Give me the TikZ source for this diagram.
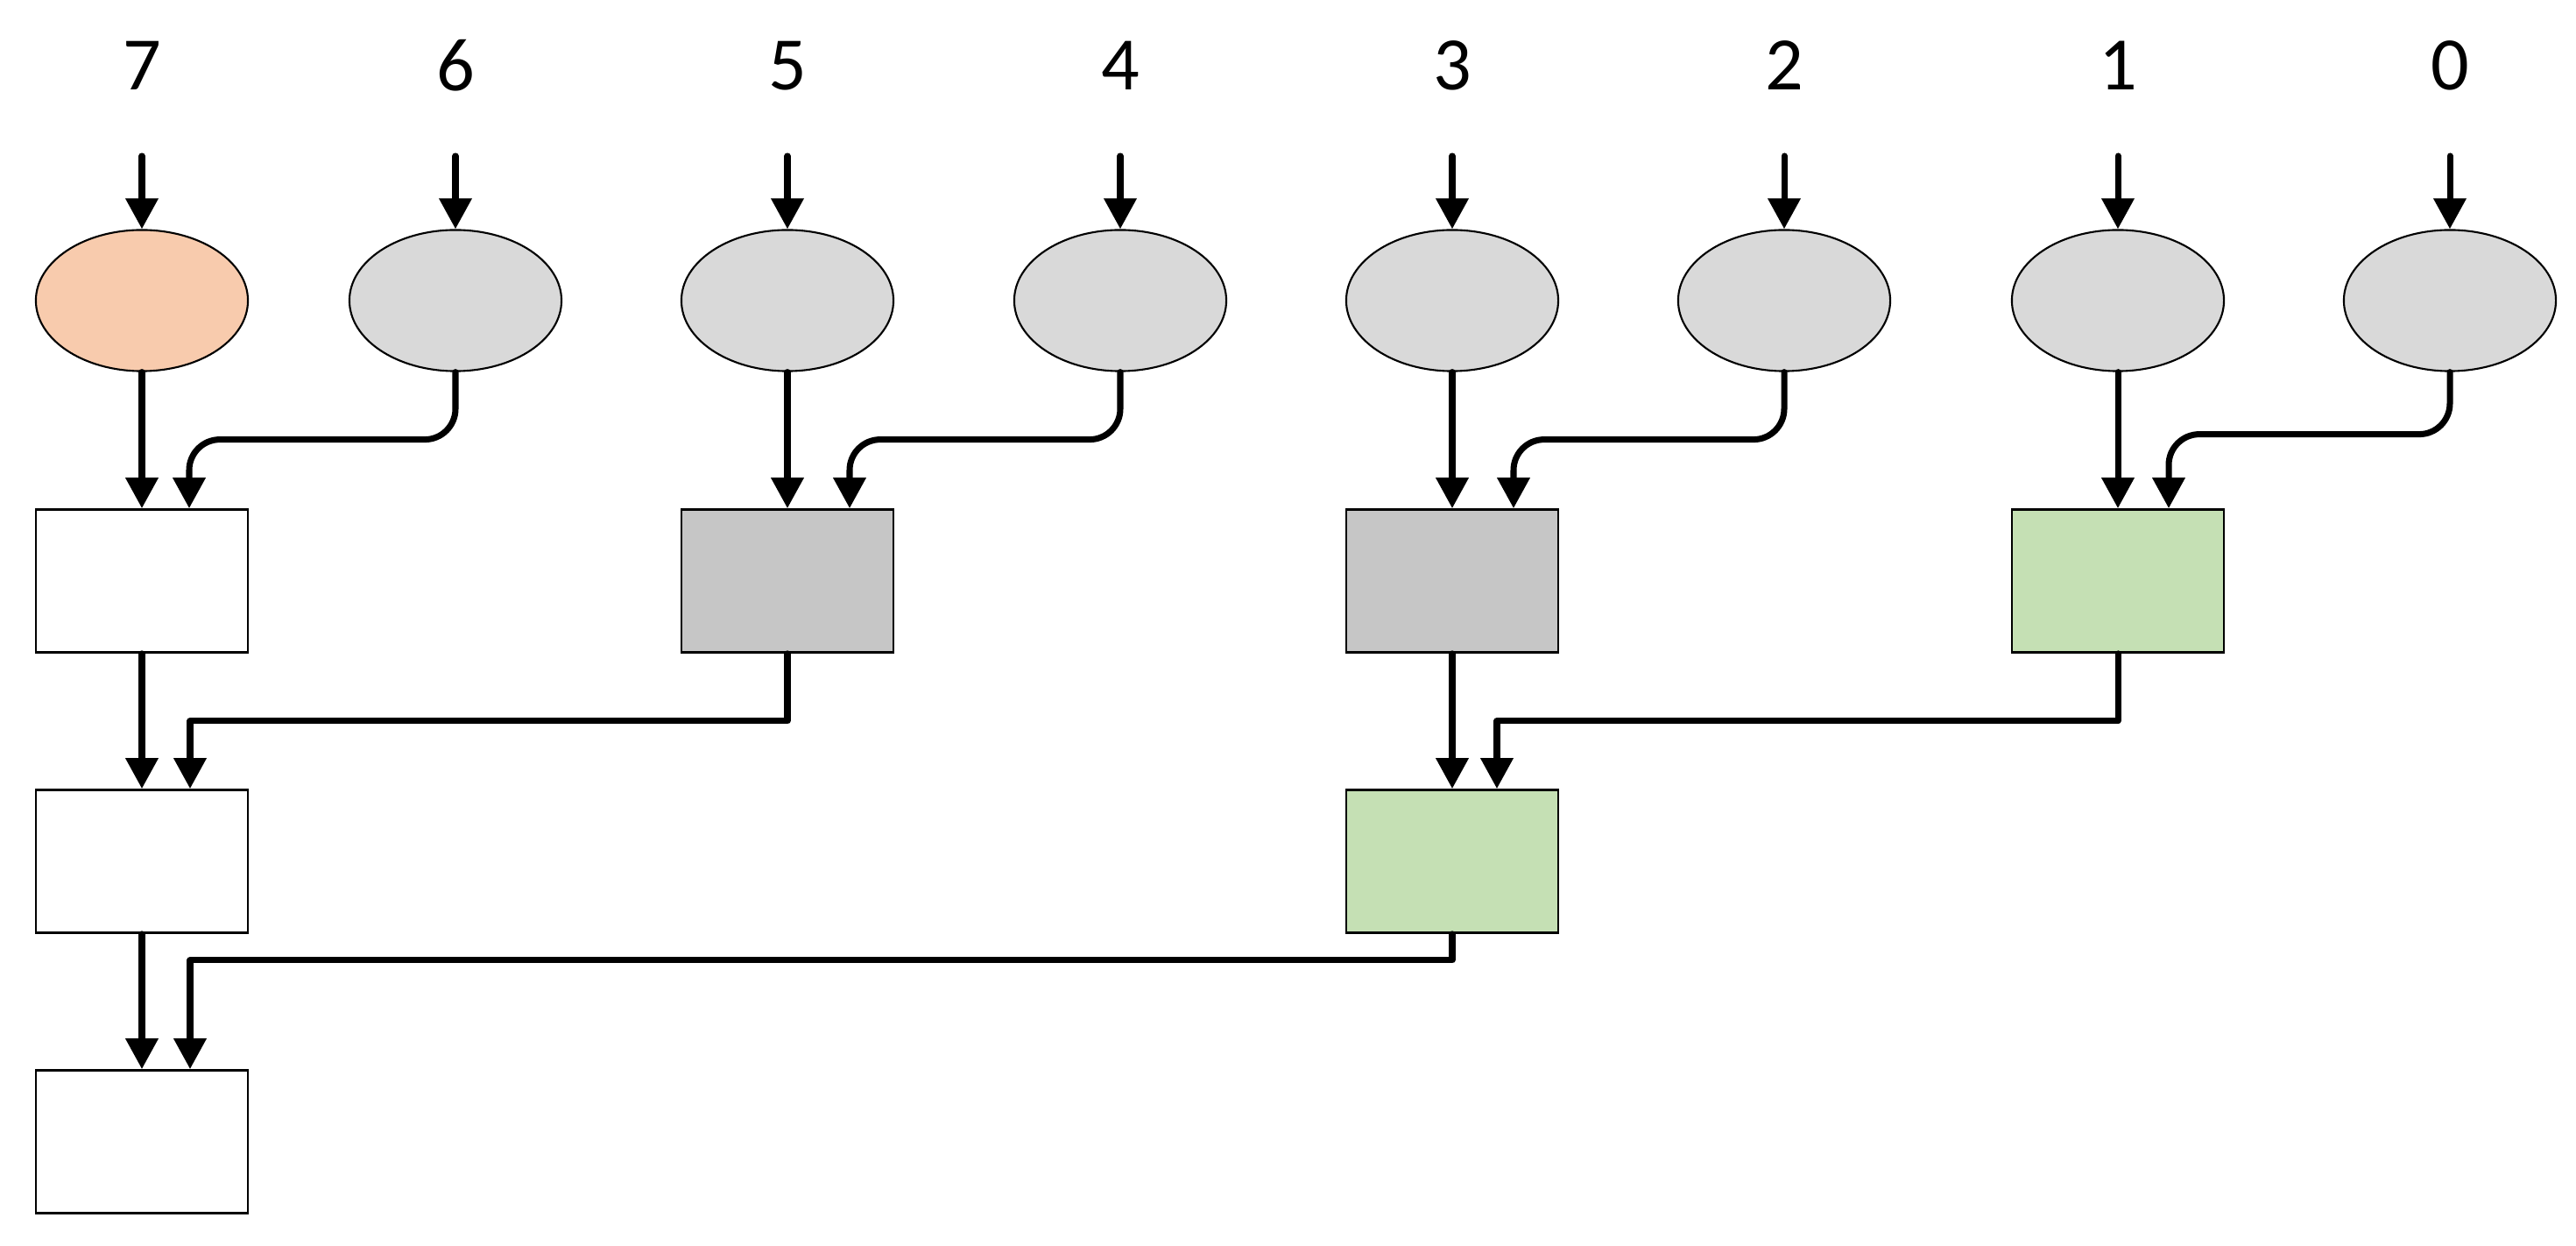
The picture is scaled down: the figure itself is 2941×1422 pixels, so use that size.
\documentclass[tikz,border=0pt]{standalone}
\usepackage{fontspec}
\setmainfont{Carlito}
\usetikzlibrary{shapes.geometric,arrows.meta,calc}

\definecolor{peche}{HTML}{F8CBAD}
\definecolor{grisclair}{HTML}{D9D9D9}
\definecolor{grisfonce}{HTML}{C6C6C6}
\definecolor{vertclair}{HTML}{C5E0B4}

\begin{document}
\begin{tikzpicture}[x=0.01cm,y=-0.01cm,
  bulle/.style={ellipse,draw,line width=0.6pt,minimum width=2.42cm,minimum height=1.61cm,inner sep=0pt},
  bloc/.style={rectangle,draw,line width=0.75pt,minimum width=2.42cm,minimum height=1.63cm,inner sep=0pt},
  fleche/.style={line width=2pt,line cap=round,line join=round,-{Triangle[length=0.35cm,width=0.36cm]}},
  chiffre/.style={font=\fontsize{24.5}{29}\selectfont}]

\useasboundingbox (0,0) rectangle (2941,1422);

% Chiffres et bulles
\foreach \n/\x/\c in {7/162/peche,6/520/grisclair,5/899/grisclair,4/1279/grisclair,
                      3/1658/grisclair,2/2037/grisclair,1/2418/grisclair,0/2797/grisclair}{
  \node[chiffre] (t\n) at (\x,75) {\n};
  \node[bulle,fill=\c] (e\n) at (\x,343) {};
  \coordinate (s\n) at (\x,178);
  \draw[fleche] (s\n) -- (e\n.north);
}

% Blocs
\node[bloc] (b7) at (162,663) {};
\node[bloc,fill=grisfonce] (b5) at (899,663) {};
\node[bloc,fill=grisfonce] (b3) at (1658,663) {};
\node[bloc,fill=vertclair] (b1) at (2418,663) {};
\node[bloc] (c7) at (162,983) {};
\node[bloc,fill=vertclair] (c3) at (1658,983) {};
\node[bloc] (d7) at (162,1303) {};

% Premier niveau
\foreach \g/\d/\o/\h in {7/6/54/77,5/4/71/77,3/2/70/77,1/0/58/71}{
  \draw[fleche] (e\g.south) -- (b\g.north);
  \draw[fleche,rounded corners=0.35cm] (e\d.south) -- ++(0,\h) -| ($(b\g.north)+(\o,0)$);
}

% Deuxieme niveau
\draw[fleche] (b7.south) -- (c7.north);
\draw[fleche] (b5.south) -- ++(0,77) -| ($(c7.north)+(55,0)$);
\draw[fleche] (b3.south) -- (c3.north);
\draw[fleche] (b1.south) -- ++(0,77) -| ($(c3.north)+(51,0)$);

% Troisieme niveau
\draw[fleche] (c7.south) -- (d7.north);
\draw[fleche] (c3.south) -- ++(0,30) -| ($(d7.north)+(55,0)$);

\end{tikzpicture}
\end{document}
